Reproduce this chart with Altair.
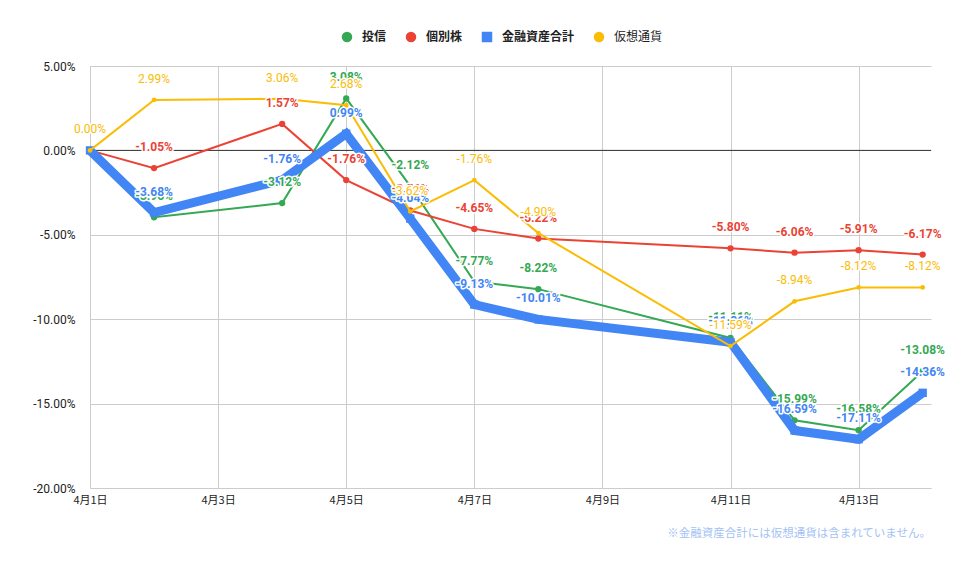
import altair as alt
import pandas as pd

# Days of April that have a value
days = [1, 2, 4, 5, 6, 7, 8, 11, 12, 13, 14]

# Change rates in percent
tousin = [0.00, -3.96, -3.12, 3.08, -2.12, -7.77, -8.22, -11.11, -15.99, -16.58, -13.08]
kobetsu = [0.00, -1.05, 1.57, -1.76, -3.56, -4.65, -5.22, -5.80, -6.06, -5.91, -6.17]
goukei = [0.00, -3.68, -1.76, 0.99, -4.04, -9.13, -10.01, -11.36, -16.59, -17.11, -14.36]
kasou = [0.00, 2.99, 3.06, 2.68, -3.62, -1.76, -4.90, -11.59, -8.94, -8.12, -8.12]

names = ["投信", "個別株", "金融資産合計", "仮想通貨"]
colors = ["#34a853", "#ea4335", "#4285f4", "#fbbc04"]
shapes = ["circle", "circle", "square", "circle"]
line_widths = [2, 2, 9, 2]
point_sizes = [40, 40, 70, 22]
label_weights = ["bold", "bold", "bold", "normal"]

x_ticks = [1, 3, 5, 7, 9, 11, 13]
y_ticks = [-20, -15, -10, -5, 0, 5]
note = "※金融資産合計には仮想通貨は含まれていません。"

rows = []
for name, vals in zip(names, [tousin, kobetsu, goukei, kasou]):
    for d, v in zip(days, vals):
        rows.append({"series": name, "day": d, "value": v, "label": f"{v:.2f}%"})
df = pd.DataFrame(rows)

x_enc = alt.X(
    "day:Q",
    scale=alt.Scale(domain=[1, 14.13], nice=False, zero=False),
    axis=alt.Axis(
        values=x_ticks,
        labelExpr="'4月' + datum.value + '日'",
        title=None,
        grid=True,
        ticks=False,
        domainColor="#cccccc",
        labelFlush=False,
        labelFont="Noto Sans CJK JP",
        labelFontSize=11,
        labelColor="#222222",
        labelPadding=6,
    ),
)
y_enc = alt.Y(
    "value:Q",
    scale=alt.Scale(domain=[-20, 5], nice=False),
    axis=alt.Axis(
        values=y_ticks,
        labelExpr="(datum.value < 0 ? '-' : '') + format(abs(datum.value), '.2f') + '%'",
        title=None,
        grid=True,
        ticks=False,
        domain=False,
        labelFont="Roboto",
        labelFontSize=12,
        labelColor="#222222",
        labelPadding=15,
    ),
)

color_enc = alt.Color(
    "series:N",
    scale=alt.Scale(domain=names, range=colors),
    legend=alt.Legend(
        title=None,
        orient="none",
        legendX=251,
        legendY=-35,
        direction="horizontal",
        columns=4,
        columnPadding=18,
        symbolSize=110,
        symbolStrokeWidth=0,
        labelFont="Noto Sans CJK JP",
        labelFontSize=12,
        labelFontWeight=alt.ExprRef("datum.label === '仮想通貨' ? 'normal' : 'bold'"),
        labelColor="#222222",
        labelOffset=9,
    ),
)
shape_enc = alt.Shape(
    "series:N",
    scale=alt.Scale(domain=names, range=shapes),
    legend=None,
)

zero_line = alt.Chart(pd.DataFrame({"value": [0]})).mark_rule(
    color="#333333", strokeWidth=1
).encode(y=y_enc)

layers = [zero_line]
for name, c, w, s in zip(names, colors, line_widths, point_sizes):
    base = alt.Chart(df).transform_filter(alt.datum.series == name)
    layers.append(base.mark_line(color=c, strokeWidth=w).encode(x=x_enc, y=y_enc))
    layers.append(
        base.mark_point(filled=True, opacity=1, size=s, strokeWidth=0).encode(
            x=x_enc, y=y_enc, color=color_enc, shape=shape_enc
        )
    )

for name, c, fw in zip(names, colors, label_weights):
    base = alt.Chart(df).transform_filter(alt.datum.series == name)
    halo = base.mark_text(
        dy=-21, font="Roboto", fontSize=12, fontWeight=fw,
        fill="white", stroke="white", strokeWidth=3, strokeJoin="round",
    ).encode(x=x_enc, y=y_enc, text="label:N")
    txt = base.mark_text(
        dy=-21, font="Roboto", fontSize=12, fontWeight=fw, color=c,
    ).encode(x=x_enc, y=y_enc, text="label:N")
    layers += [halo, txt]

chart = alt.layer(*layers).properties(
    width=841,
    height=422,
    autosize=alt.AutoSizeParams(type="none"),
    padding={"left": 82, "top": 58, "right": 20, "bottom": 62},
    background="white",
    title=alt.Title(
        note,
        orient="bottom",
        anchor="end",
        frame="group",
        font="Noto Sans CJK JP",
        fontSize=11.5,
        fontWeight="normal",
        color="#a4c2f4",
        offset=23,
    ),
).configure_axis(
    gridColor="#cccccc"
).configure_view(
    stroke=None
)

chart.save("out.html", embed_options={"renderer": "svg", "actions": False})
